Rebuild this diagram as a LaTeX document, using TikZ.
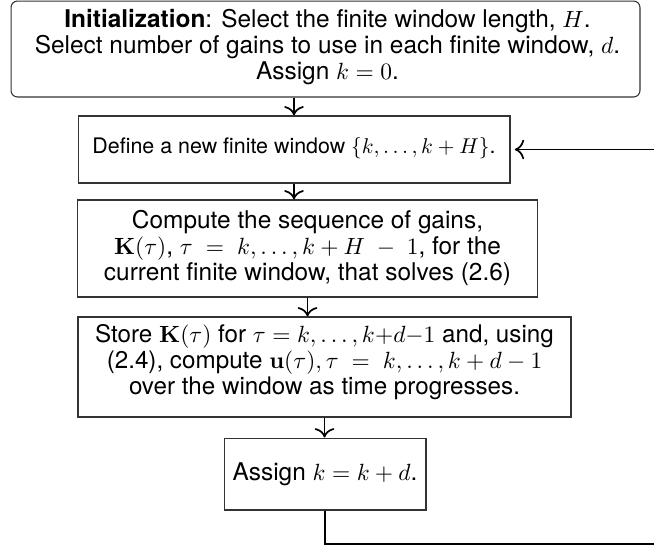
\documentclass[tikz,border=0pt]{standalone}
\usepackage[no-math]{fontspec}
\setmainfont{TeX Gyre Heros}
\usetikzlibrary{arrows.meta}
\begin{document}
\begin{tikzpicture}[x=0.467pt,y=-0.467pt,
  font=\fontsize{11.4}{12.1}\selectfont,
  box/.style={draw=black!80, line width=0.5pt, inner sep=0pt},
  txt/.style={inner sep=0pt, align=center},
  arr/.style={-{To[scale=1.3]}, line width=0.8pt}]
\path[use as bounding box] (0,0) rectangle (654,546);
\clip (0,0) rectangle (654,546);
% boxes
\node[box, rounded corners=3pt, minimum width=293.7pt, minimum height=44.8pt] (init) at (325.5,49) {};
\node[box, minimum width=201.7pt, minimum height=31.3pt] (define) at (294,149.5) {};
\node[box, minimum width=214.4pt, minimum height=45.3pt] (compute) at (307.5,248.5) {};
\node[box, minimum width=230.2pt, minimum height=46.7pt] (store) at (324.5,367) {};
\node[box, minimum width=94.3pt, minimum height=33.6pt] (assign) at (325,474) {};
% texts
\node[txt] (initT) at (327.5,47)
  {\textbf{Initialization}: Select the finite window length, $H$.\\
   Select number of gains to use in each finite window, $d$.\\
   Assign $k=0$.};
\node[txt, font=\fontsize{10}{12}\selectfont] (defineT) at (294,148)
  {Define a new finite window $\{k,\dots,k+H\}$.};
\node[txt] (computeT) at (307.5,248)
  {Compute the sequence of gains,\\
   $\mathbf{K}(\tau)$, $\tau\;=\;k,\dots,k+H\;-\;1$, for the\\
   current finite window, that solves (2.6)};
\node[txt, font=\fontsize{11.3}{12}\selectfont] (storeT) at (324.5,362)
  {Store $\mathbf{K}(\tau)$ for $\tau=k,\dots,k{+}d{-}1$ and, using\\
   (2.4), compute $\mathbf{u}(\tau),\tau\;=\;k,\dots,k+d-1$\\
   over the window as time progresses.};
\node[txt] (assignT) at (325,474) {Assign $k=k+d$.};
% connectors
\coordinate (r1) at (664,544);
\draw[arr] (init.south -| define.north) -- (define.north);
\draw[arr] (define.south) -- (define.south |- compute.north);
\draw[arr] (compute.south) -- (compute.south |- store.north);
\draw[arr] (store.south) -- (store.south |- assign.north);
\draw[arr, shorten >=2pt] (assign.south) |- (r1) |- (define.east);
\end{tikzpicture}
\end{document}
